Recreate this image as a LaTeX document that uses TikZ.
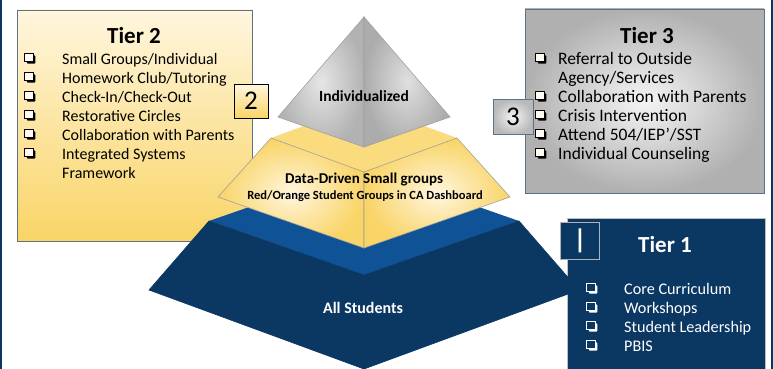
\documentclass[tikz,border=0pt]{standalone}
\usepackage{fontspec}
\setmainfont{Carlito}
\usetikzlibrary{positioning}

\definecolor{navy}{HTML}{0B3763}
\definecolor{midblue}{HTML}{0F5396}
\definecolor{cream}{HTML}{FFF6DE}
\definecolor{gold}{HTML}{F9D466}
\definecolor{edgegray}{HTML}{A0A0A0}
\definecolor{frame}{HTML}{5F7185}

% shadowed check box bullet: #1 line colour, #2 inside colour
\newcommand{\chk}[2]{\tikz[x=1pt, y=1pt, baseline=0pt]{%
  \fill[#1, rounded corners=1pt] (2.3,0.8) rectangle (10.8,9.2);
  \filldraw[draw=#1, fill=#2, line width=0.8pt] (0,3) rectangle (8.4,11);}}
\newcommand{\blk}{\chk{black}{white!60!cream}}
\newcommand{\wht}{\chk{white}{navy}}

\begin{document}
\begin{tikzpicture}[x=1pt, y=-1pt,
    tierbox/.style={draw=frame, line width=0.8pt},
    numbox/.style={draw, line width=0.9pt, inner sep=0pt, font=\fontsize{27}{27}\selectfont},
    tiertitle/.style={font=\fontsize{23}{23}\selectfont\bfseries},
    itemlist/.style={anchor=north west, inner sep=0pt, align=left},
    face/.style={draw=edgegray, line width=0.6pt},
    pyrlabel/.style={align=center}
]
\useasboundingbox (0,0) rectangle (773,369);
\fill[white] (0,0) rectangle (773,369);
\fill[navy] (0,0) rectangle (2,369);
\fill[navy] (771,0) rectangle (773,369);

% tier boxes
\shade[tierbox, top color=cream, bottom color=gold] (17,10) rectangle (252,241);
\shade[tierbox, inner color=gray!8, outer color=gray!62] (525,9) rectangle (764,193);
\fill[navy, draw=gray!50, line width=0.6pt] (567,218) rectangle (765,375);

\node[tiertitle] (t2title) at (134,36) {Tier 2};
\node[itemlist] (t2list) at (24,51) {\fontsize{16}{19}\selectfont
  \begin{tabular}{@{}p{38pt}@{}l@{}}
  \blk & Small Groups/Individual\\
  \blk & Homework Club/Tutoring\\
  \blk & Check-In/Check-Out\\
  \blk & Restorative Circles\\
  \blk & Collaboration with Parents\\
  \blk & Integrated Systems\\
       & Framework
  \end{tabular}};

\node[tiertitle] (t3title) at (647,36) {Tier 3};
\node[itemlist] (t3list) at (535,51) {\fontsize{17.5}{19}\selectfont
  \begin{tabular}{@{}p{23pt}@{}l@{}}
  \blk & Referral to Outside\\
       & Agency/Services\\
  \blk & Collaboration with Parents\\
  \blk & Crisis Intervention\\
  \blk & Attend 504/IEP'/SST\\
  \blk & Individual Counseling
  \end{tabular}};

\node[tiertitle, text=white] (t1title) at (665,245) {Tier 1};
\node[itemlist, text=white] (t1list) at (586,281) {\fontsize{16.2}{19}\selectfont
  \begin{tabular}{@{}p{38pt}@{}l@{}}
  \wht & Core Curriculum\\
  \wht & Workshops\\
  \wht & Student Leadership\\
  \wht & PBIS
  \end{tabular}};

% pyramid corners
\coordinate (bL) at (149,290);   \coordinate (bR) at (579,290);
\coordinate (bB) at (364,369);   \coordinate (bF) at (364,275);
\coordinate (bTL) at (209,221);  \coordinate (bTR) at (519,221);
\coordinate (bK) at (364,167);
\coordinate (yL) at (218,197);   \coordinate (yR) at (510,197);
\coordinate (yB) at (364,248);   \coordinate (yF) at (364,172);
\coordinate (yTL) at (271,138);  \coordinate (yTR) at (457,138);
\coordinate (yK) at (364,104);
\coordinate (gA) at (364,17);    \coordinate (gL) at (278,117);
\coordinate (gR) at (450,117);   \coordinate (gF) at (364,147);

% bottom tier
\fill[midblue] (bTL) -- (bK) -- (bTR) -- (bF) -- cycle;
\fill[face, navy] (bTL) -- (bF) -- (bB) -- (bL) -- cycle;
\fill[face, navy] (bF) -- (bTR) -- (bR) -- (bB) -- cycle;

% middle tier
\fill[gold!80!cream] (yTL) -- (yK) -- (yTR) -- (yF) -- cycle;
\shade[face, inner color=cream, outer color=gold] (yTL) -- (yF) -- (yB) -- (yL) -- cycle;
\shade[face, inner color=cream, outer color=gold] (yF) -- (yTR) -- (yR) -- (yB) -- cycle;

% top tier
\shade[face, inner color=gray!20, outer color=gray!60] (gA) -- (gF) -- (gL) -- cycle;
\shade[face, inner color=gray!25, outer color=gray!65] (gA) -- (gR) -- (gF) -- cycle;

\node[pyrlabel, font=\fontsize{15.5}{15.5}\selectfont\bfseries] (indiv) at (364,96) {Individualized};
\node[pyrlabel, font=\fontsize{15}{15}\selectfont\bfseries] (small) at (364,180) {Data-Driven Small groups};
\node[pyrlabel, font=\fontsize{12.5}{12.5}\selectfont\bfseries] (redor) at (365,196) {Red/Orange Student Groups in CA Dashboard};
\node[pyrlabel, text=white, font=\fontsize{16}{16}\selectfont\bfseries] (all) at (363,308) {All Students};

% number tags
\node[numbox, top color=cream, bottom color=gold, minimum width=34pt, minimum height=34pt] (n2) at (251,101) {2};
\node[numbox, draw=frame, inner color=gray!8, outer color=gray!55, minimum width=40pt, minimum height=35pt] (n3) at (513,117) {3};
\node[numbox, draw=gray!60, fill=navy, text=white, minimum width=39pt, minimum height=37pt, font=\fontsize{27}{27}\selectfont\bfseries] (n1) at (580,241) {|};
\end{tikzpicture}
\end{document}
